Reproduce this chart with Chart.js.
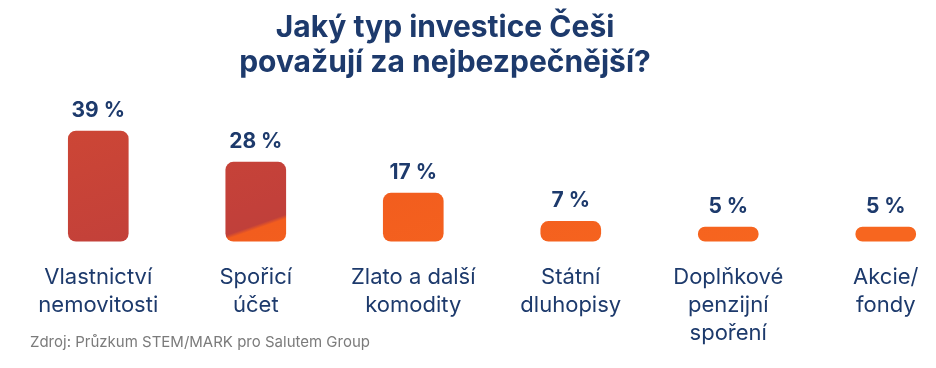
<!DOCTYPE html>
<html>
<head>
<meta charset="utf-8">
<script src="https://cdn.jsdelivr.net/npm/chart.js@4/dist/chart.umd.min.js"></script>
<style>
  html, body { margin: 0; padding: 0; background: #fff; }
  #wrap { width: 936px; height: 368px; position: relative; }
</style>
</head>
<body>
<div id="wrap"><canvas id="chart" width="936" height="368"></canvas></div>
<script>
// data
const categories = [
  ["Vlastnictví", "nemovitosti"],
  ["Spořicí", "účet"],
  ["Zlato a další", "komodity"],
  ["Státní", "dluhopisy"],
  ["Doplňkové", "penzijní", "spoření"],
  ["Akcie/", "fondy"],
];
const shares = [39, 28, 17, 7, 5, 5];
const titleLines = ["Jaký typ investice Češi", "považují za nejbezpečnější?"];
const sourceText = "Zdroj: Průzkum STEM/MARK pro Salutem Group";

const navy = "#1d3a6c";
const font = "Inter, 'Noto Sans', sans-serif";

// red -> orange diagonal fill shared by all bars
function barFill(ctx) {
  const chart = ctx.chart;
  const xs = chart.scales.x;
  const ys = chart.scales.y;
  if (!xs || !ys || !chart.chartArea) return "#c2403a";
  const cx = xs.getPixelForValue(1);
  const cy = ys.getPixelForValue(5);
  const nx = 0.33, ny = 0.944, d = 200;
  const g = chart.ctx.createLinearGradient(cx - nx * d, cy - ny * d, cx + nx * d, cy + ny * d);
  g.addColorStop(0, "#d04834");
  g.addColorStop(0.45, "#c2403a");
  g.addColorStop(0.495, "#c0403a");
  g.addColorStop(0.505, "#f25d1e");
  g.addColorStop(1, "#f7661f");
  return g;
}

// title, source and value labels
const textPlugin = {
  id: "texts",
  afterDatasetsDraw(chart) {
    const c = chart.ctx;
    c.save();
    c.fillStyle = navy;
    c.textAlign = "center";
    c.textBaseline = "alphabetic";
    c.font = "bold 21px " + font;
    const meta = chart.getDatasetMeta(0);
    meta.data.forEach((bar, i) => {
      c.fillText(shares[i] + " %", bar.x, bar.y - 14);
    });
    c.font = "bold 30px " + font;
    c.fillText(titleLines[0], 445, 37);
    c.fillText(titleLines[1], 445, 72);
    c.textAlign = "left";
    c.fillStyle = "#7b7b7b";
    c.font = "15px " + font;
    c.fillText(sourceText, 30, 347);
    c.restore();
  },
};

const ctx = document.getElementById("chart").getContext("2d");
const chart = new Chart(ctx, {
  type: "bar",
  data: {
    datasets: [
      {
        data: shares.map((v, i) => ({ x: i, y: v })),
        backgroundColor: barFill,
        borderRadius: 8,
        borderSkipped: false,
        barThickness: 60,
        clip: false,
      },
    ],
  },
  options: {
    responsive: false,
    animation: false,
    layout: { padding: { top: 100, bottom: 7, left: 0, right: 0 } },
    plugins: {
      legend: { display: false },
      title: { display: false },
      tooltip: { enabled: false },
    },
    scales: {
      x: {
        type: "linear",
        min: -0.624,
        max: 5.319,
        offset: false,
        grid: { display: false },
        border: { display: false },
        ticks: {
          stepSize: 1,
          includeBounds: false,
          autoSkip: false,
          maxRotation: 0,
          padding: 14,
          color: navy,
          font: { family: font, size: 22, lineHeight: 1.27 },
          callback: (v) => (Number.isInteger(v) && categories[v] ? categories[v] : ""),
        },
      },
      y: {
        display: false,
        min: 0,
        max: 50,
      },
    },
  },
  plugins: [textPlugin],
});
</script>
</body>
</html>
